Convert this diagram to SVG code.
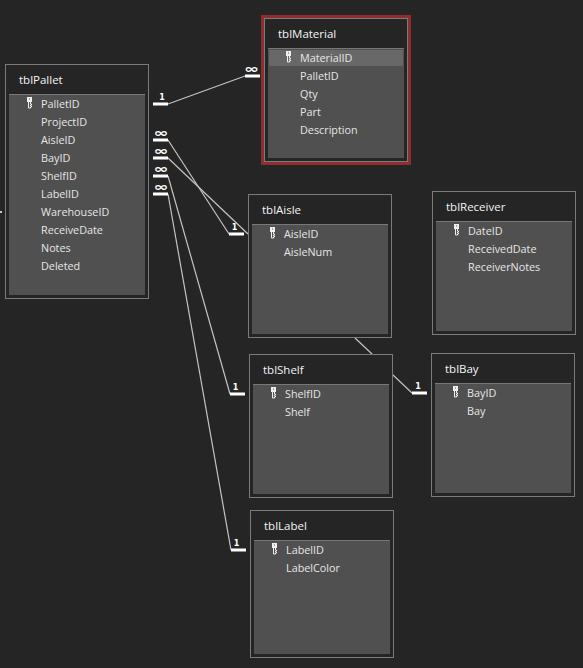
<svg xmlns="http://www.w3.org/2000/svg" width="583" height="668" viewBox="0 0 583 668">
<style>
.box{fill:#252525;stroke:#7b7b7b;stroke-width:1}
.list{fill:#505050;stroke:none}
.hdr{stroke:#777;stroke-width:1}
.title{font:11.500px "Open Sans","Liberation Sans",sans-serif;fill:#f4f4f4}
.f{font:10.800px "Open Sans","Liberation Sans",sans-serif;fill:#e6e6e6}
.ln{stroke:#c4c4c4;stroke-width:1.200;fill:none}
.bar{stroke:#fff;stroke-width:3;fill:none}
.one{font:bold 8px "DejaVu Sans",sans-serif;fill:#fff;text-anchor:middle}
.inf{font:bold 12px "DejaVu Sans",sans-serif;fill:#fff;text-anchor:middle}
</style>
<defs>
<g id="key"><rect x="0" y="0" width="5" height="5" fill="#f0f0f0"/><rect x="2" y="1.500" width="1" height="1" fill="#505050"/><path d="M1.500 5V11H3.500V10H4.500V9H3.500V8H4.500V7H3.500V5" fill="none" stroke="#f0f0f0" stroke-width="1"/></g>
</defs>
<rect width="583" height="668" fill="#252525"/>
<g id="connectors">
<path class="ln" d="M168 104L245 76"/>
<path class="ln" d="M168 140L229 234"/>
<path class="ln" d="M168 158L248 234"/>
<path class="ln" d="M168 176L230 394"/>
<path class="ln" d="M168 194L231 550"/>
<path class="ln" d="M355 338L372 354"/>
<path class="ln" d="M393 375L412 393"/>
<path class="bar" d="M153 104H168M245 76H260M153 140H168M153 158H168M153 176H168M153 194H168M229 234H244M230 394H245M231 550H246M412 393H427"/>
<text class="one" x="162" y="100">1</text>
<text class="one" x="234.500" y="230">1</text>
<text class="one" x="235.500" y="390">1</text>
<text class="one" x="236.500" y="546">1</text>
<text class="one" x="418" y="389">1</text>
<text class="inf" transform="translate(251.500 73) scale(1.500 1)">∞</text>
<text class="inf" transform="translate(161 137) scale(1.500 1)">∞</text>
<text class="inf" transform="translate(161 155) scale(1.500 1)">∞</text>
<text class="inf" transform="translate(161 173) scale(1.500 1)">∞</text>
<text class="inf" transform="translate(161 191) scale(1.500 1)">∞</text>
<path d="M0 212H2" stroke="#fff" stroke-width="1.500"/>
</g>
<g id="tblPallet">
<rect class="box" x="5.500" y="64.500" width="143" height="234"/>
<rect class="list" x="9" y="94" width="136" height="201"/>
<path class="hdr" d="M9 94.500H145"/>
<text class="title" x="19" y="84">tblPallet</text>
<use href="#key" x="27" y="97"/>
<text class="f" x="41" y="108">PalletID</text>
<text class="f" x="41" y="126">ProjectID</text>
<text class="f" x="41" y="144">AisleID</text>
<text class="f" x="41" y="162">BayID</text>
<text class="f" x="41" y="180">ShelfID</text>
<text class="f" x="41" y="198">LabelID</text>
<text class="f" x="41" y="216">WarehouseID</text>
<text class="f" x="41" y="234">ReceiveDate</text>
<text class="f" x="41" y="252">Notes</text>
<text class="f" x="41" y="270">Deleted</text>
</g>
<g id="tblMaterial">
<rect x="262.500" y="16.500" width="147" height="147" fill="#252525" stroke="#8f2c30" stroke-width="3"/>
<rect class="box" x="264.500" y="18.500" width="143" height="143"/>
<rect class="list" x="268" y="48" width="136" height="110"/>
<path class="hdr" d="M268 48.500H404"/>
<rect x="269" y="50" width="134" height="16" fill="#686868"/>
<text class="title" x="278" y="38">tblMaterial</text>
<use href="#key" x="286" y="51"/>
<text class="f" x="300" y="62">MaterialID</text>
<text class="f" x="300" y="80">PalletID</text>
<text class="f" x="300" y="98">Qty</text>
<text class="f" x="300" y="116">Part</text>
<text class="f" x="300" y="134">Description</text>
</g>
<g id="tblAisle">
<rect class="box" x="248.500" y="194.500" width="143" height="143"/>
<rect class="list" x="252" y="224" width="136" height="110"/>
<path class="hdr" d="M252 224.500H388"/>
<text class="title" x="262" y="214">tblAisle</text>
<use href="#key" x="270" y="227"/>
<text class="f" x="284" y="238">AisleID</text>
<text class="f" x="284" y="256">AisleNum</text>
</g>
<g id="tblReceiver">
<rect class="box" x="432.500" y="191.500" width="143" height="143"/>
<rect class="list" x="436" y="221" width="136" height="110"/>
<path class="hdr" d="M436 221.500H572"/>
<text class="title" x="446" y="211">tblReceiver</text>
<use href="#key" x="454" y="224"/>
<text class="f" x="468" y="235">DateID</text>
<text class="f" x="468" y="253">ReceivedDate</text>
<text class="f" x="468" y="271">ReceiverNotes</text>
</g>
<g id="tblShelf">
<rect class="box" x="249.500" y="354.500" width="143" height="143"/>
<rect class="list" x="253" y="384" width="136" height="110"/>
<path class="hdr" d="M253 384.500H389"/>
<text class="title" x="263" y="374">tblShelf</text>
<use href="#key" x="271" y="387"/>
<text class="f" x="285" y="398">ShelfID</text>
<text class="f" x="285" y="416">Shelf</text>
</g>
<g id="tblBay">
<rect class="box" x="431.500" y="353.500" width="143" height="143"/>
<rect class="list" x="435" y="383" width="136" height="110"/>
<path class="hdr" d="M435 383.500H571"/>
<text class="title" x="445" y="373">tblBay</text>
<use href="#key" x="453" y="386"/>
<text class="f" x="467" y="397">BayID</text>
<text class="f" x="467" y="415">Bay</text>
</g>
<g id="tblLabel">
<rect class="box" x="250.500" y="510.500" width="143" height="147"/>
<rect class="list" x="254" y="540" width="136" height="114"/>
<path class="hdr" d="M254 540.500H390"/>
<text class="title" x="264" y="530">tblLabel</text>
<use href="#key" x="272" y="543"/>
<text class="f" x="286" y="554">LabelID</text>
<text class="f" x="286" y="572">LabelColor</text>
</g>
</svg>
